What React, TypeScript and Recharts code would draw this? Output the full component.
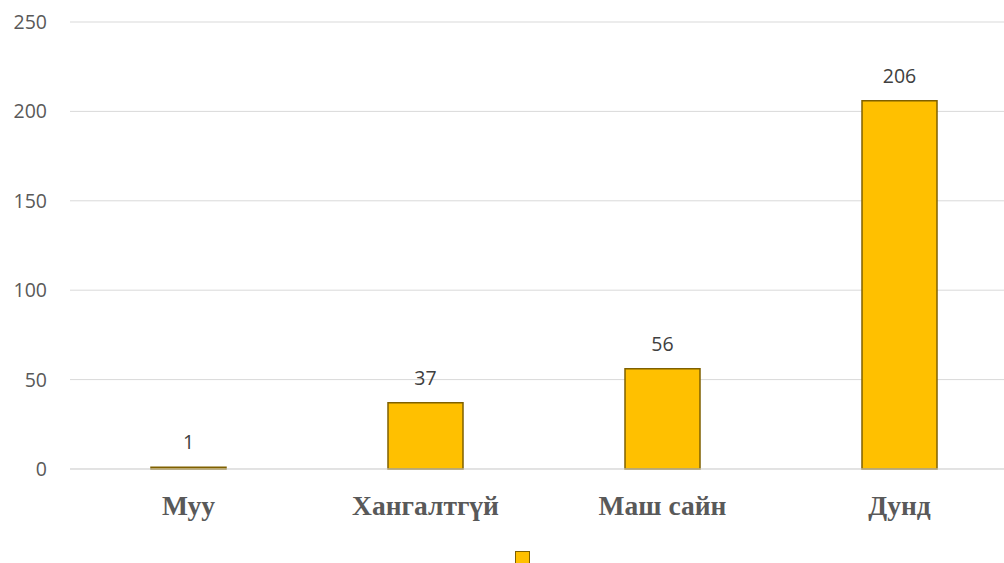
import React from "react";
import {
  BarChart,
  Bar,
  XAxis,
  YAxis,
  CartesianGrid,
  Legend,
  LabelList,
} from "recharts";

const categories = ["Муу", "Хангалтгүй", "Маш сайн", "Дунд"];
const counts = [1, 37, 56, 206];
const yTicks = [0, 50, 100, 150, 200, 250];

const data = categories.map((name, i) => ({ name, value: counts[i] }));

const BAR_FILL = "#FFC000";
const BAR_STROKE = "#7F6000";

const LegendSwatch = () => (
  <div style={{ display: "flex", justifyContent: "center" }}>
    <div
      style={{
        width: 13,
        height: 14,
        background: BAR_FILL,
        border: `1.5px solid ${BAR_STROKE}`,
      }}
    />
  </div>
);

const App: React.FC = () => {
  return (
    <div
      style={{
        position: "absolute",
        left: 0,
        top: 0,
        width: 1004,
        height: 563,
        overflow: "hidden",
        background: "#fff",
      }}
    >
      <BarChart
        width={1018}
        height={600}
        data={data}
        margin={{ top: 22, right: 0, left: 0, bottom: 85 }}
      >
        <CartesianGrid vertical={false} stroke="#D9D9D9" strokeWidth={1} />
        <XAxis
          dataKey="name"
          axisLine={{ stroke: "#D9D9D9" }}
          tickLine={false}
          tickSize={0}
          tickMargin={26}
          tick={{
            fill: "#595959",
            fontFamily: "Liberation Serif",
            fontWeight: 700,
            fontSize: 27.5,
          }}
        />
        <YAxis
          width={70}
          domain={[0, 250]}
          ticks={yTicks}
          axisLine={false}
          tickLine={false}
          tickSize={0}
          tickMargin={23}
          tick={{ fill: "#595959", fontFamily: "Open Sans", fontSize: 19.5 }}
        />
        <Legend
          verticalAlign="bottom"
          content={() => <LegendSwatch />}
          wrapperStyle={{ left: 514, top: 551, width: 16 }}
        />
        <Bar
          dataKey="value"
          fill={BAR_FILL}
          stroke={BAR_STROKE}
          strokeWidth={1.5}
          barSize={75}
          isAnimationActive={false}
        >
          <LabelList
            dataKey="value"
            position="top"
            offset={18}
            fill="#404040"
            fontFamily="Open Sans"
            fontSize={19.5}
          />
        </Bar>
      </BarChart>
    </div>
  );
};

export default App;
